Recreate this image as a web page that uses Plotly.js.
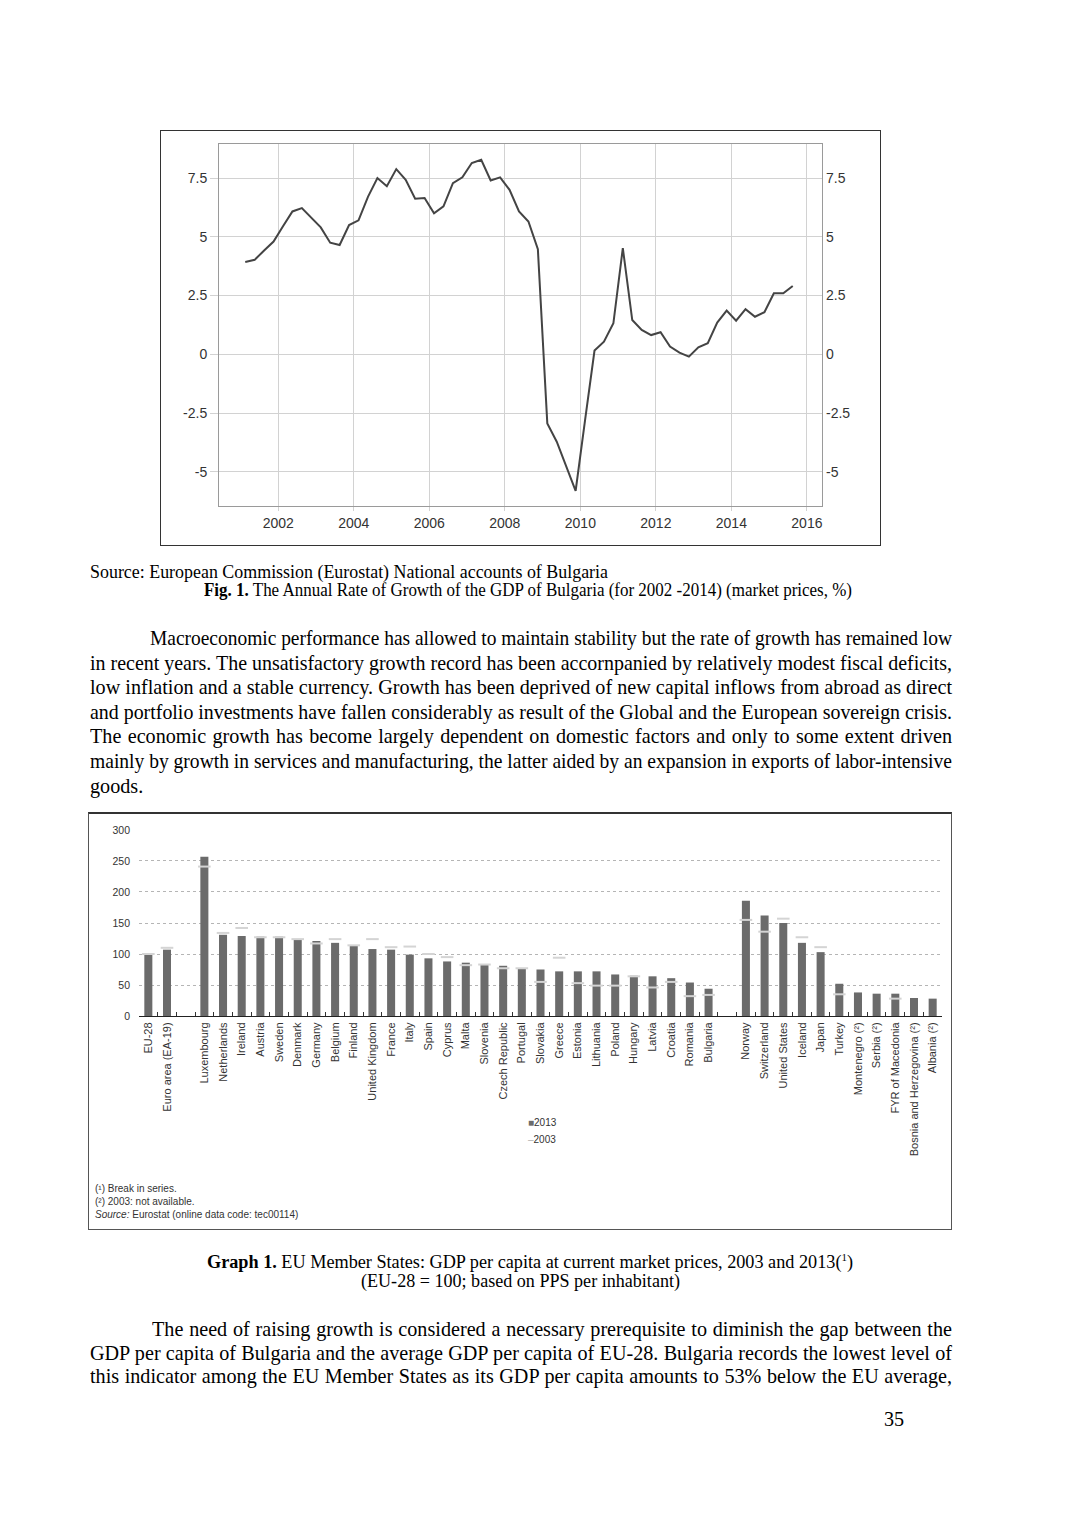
<!DOCTYPE html>
<html><head><meta charset="utf-8">
<script src="https://cdn.plot.ly/plotly-3.0.1.min.js"></script>
<style>
html,body{margin:0;padding:0;background:#fff}
body{width:1080px;height:1528px;position:relative;overflow:hidden;font-family:"Liberation Serif","Times New Roman",serif;color:#000}
.frame{position:absolute;box-sizing:border-box;background:#fff}
.ln{position:absolute;white-space:nowrap;transform-origin:0 50%;line-height:1}
</style></head><body>
<div class="frame" style="left:160px;top:130px;width:721px;height:416px;border:1px solid #333"><div id="g1"></div></div>
<div class="frame" style="left:88px;top:812px;width:864px;height:418px;border:1px solid #555;border-top:2px solid #333"><div id="g2"></div></div>
<script>
// ---------- Fig. 1 data: quarterly annual GDP growth rate of Bulgaria (%) ----------
const quarterTimes = [
 2001.125,2001.375,2001.625,2001.875,
 2002.125,2002.375,2002.625,2002.875,
 2003.125,2003.375,2003.625,2003.875,
 2004.125,2004.375,2004.625,2004.875,
 2005.125,2005.375,2005.625,2005.875,
 2006.125,2006.375,2006.625,2006.875,
 2007.125,2007.375,2007.625,2007.875,
 2008.125,2008.375,2008.625,2008.875,
 2009.125,2009.375,2009.625,2009.875,
 2010.125,2010.375,2010.625,2010.875,
 2011.125,2011.375,2011.625,2011.875,
 2012.125,2012.375,2012.625,2012.875,
 2013.125,2013.375,2013.625,2013.875,
 2014.125,2014.375,2014.625,2014.875,
 2015.125,2015.375,2015.625];
const growthRate = [
 3.93,4.02,4.42,4.80,
 5.45,6.08,6.22,5.80,
 5.40,4.75,4.65,5.50,
 5.70,6.70,7.50,7.15,
 7.88,7.43,6.62,6.65,
 6.00,6.30,7.28,7.53,
 8.14,8.28,7.40,7.53,
 7.00,6.08,5.65,4.47,
 -2.94,-3.72,-4.79,-5.81,
 -2.80,0.16,0.54,1.32,
 4.52,1.46,1.04,0.82,
 0.94,0.33,0.07,-0.10,
 0.30,0.47,1.35,1.86,
 1.43,1.92,1.60,1.79,
 2.60,2.60,2.91];
const yearTicks = [2002,2004,2006,2008,2010,2012,2014,2016];
const growthTicks = [-5,-2.5,0,2.5,5,7.5];
const growthTickText = ['-5','-2.5','0','2.5','5','7.5'];

// ---------- Graph 1 data: GDP per capita in PPS (EU-28 = 100) ----------
const countries = ['EU-28','Euro area (EA-19)',' ','Luxembourg','Netherlands','Ireland','Austria','Sweden','Denmark','Germany','Belgium','Finland','United Kingdom','France','Italy','Spain','Cyprus','Malta','Slovenia','Czech Republic','Portugal','Slovakia','Greece','Estonia','Lithuania','Poland','Hungary','Latvia','Croatia','Romania','Bulgaria','  ','Norway','Switzerland','United States','Iceland','Japan','Turkey','Montenegro (²)','Serbia (²)','FYR of Macedonia','Bosnia and Herzegovina (²)','Albania (²)'];
const gdp2013 = [100,107,null,257,131,129,128,128,123,121,118,113,108,107,99,93,88,86,83,81,77,75,72,72,72,67,65,64,61,54,44,null,186,162,150,118,103,52,38,36,36,29,28];
const gdp2003 = [100,110,null,241,134,142,127,127,124,117,124,114,124,111,112,100,95,82,83,77,77,55,94,53,49,49,64,46,55,32,34,null,155,136,157,127,111,35,null,null,28,null,null];
const gdpTicks = [0,50,100,150,200,250,300];
const seriesNames = ['2013','2003'];

const sans = 'Liberation Sans, Arial, sans-serif';

// ---------- Fig. 1 ----------
const yr = [-6.455, 8.95];
Plotly.newPlot('g1', [
  {x: quarterTimes, y: growthRate, type:'scatter', mode:'lines', line:{color:'#444', width:2}, hoverinfo:'skip'},
  {x: quarterTimes, y: growthRate, type:'scatter', mode:'lines', yaxis:'y2', line:{color:'rgba(0,0,0,0)', width:0}, hoverinfo:'skip'}
], {
  width:719, height:414, margin:{l:58,r:58,t:13,b:39},
  paper_bgcolor:'#fff', plot_bgcolor:'#fff', showlegend:false,
  font:{family:sans, size:14, color:'#333'},
  xaxis:{range:[2000.43,2016.4], tickvals:yearTicks, ticktext:yearTicks.map(String),
    showgrid:true, gridcolor:'#d2d2d2', gridwidth:1, zeroline:false,
    showline:true, linecolor:'#9a9a9a', linewidth:1, mirror:true,
    ticks:'outside', ticklen:4, tickcolor:'#d2d2d2', tickfont:{size:14,color:'#333'}},
  yaxis:{range:yr, tickvals:growthTicks, ticktext:growthTickText,
    showgrid:true, gridcolor:'#d2d2d2', gridwidth:1, zeroline:false,
    showline:true, linecolor:'#9a9a9a', linewidth:1, mirror:true,
    ticks:'outside', ticklen:8, tickcolor:'#d2d2d2', tickfont:{size:14,color:'#333'}},
  yaxis2:{overlaying:'y', side:'right', range:yr, tickvals:growthTicks, ticktext:growthTickText,
    showgrid:false, zeroline:false, showline:false, ticks:'', ticklabelstandoff:3,
    tickfont:{size:14,color:'#333'}}
}, {staticPlot:true, displayModeBar:false});

// ---------- Graph 1 ----------
Plotly.newPlot('g2', [
  {x: countries, y: gdp2013, type:'bar', name:seriesNames[0], marker:{color:'#6b6b6b'}, hoverinfo:'skip'},
  {x: countries, y: gdp2003, type:'scatter', mode:'markers', name:seriesNames[1],
   marker:{symbol:'line-ew', size:9, color:'#d4d4d4', line:{color:'#d4d4d4', width:2}}, hoverinfo:'skip'}
], {
  width:862, height:415, margin:{l:50,r:9,t:15,b:213},
  paper_bgcolor:'#fff', plot_bgcolor:'#fff', showlegend:false, bargap:0.57,
  font:{family:sans, size:11, color:'#333'},
  xaxis:{type:'category', categoryorder:'array', categoryarray:countries,
    range:[-0.5, countries.length - 0.5], autorange:false,
    tickangle:-90, tickfont:{size:11, color:'#333'},
    showline:true, linecolor:'#222', linewidth:1, showgrid:false, zeroline:false,
    ticks:'inside', ticklen:4, tickcolor:'#333', tickson:'boundaries', ticklabelstandoff:1},
  yaxis:{range:[0,301.6], autorange:false, tickvals:gdpTicks, ticktext:gdpTicks.map(String),
    showgrid:true, gridcolor:'#b5b5b5', griddash:'dot', gridwidth:1, zeroline:false, showline:false,
    ticks:'', tickfont:{size:10.5, color:'#333'}, ticklabelstandoff:8},
  annotations:[
    {xref:'paper', yref:'paper', x:0.4825, y:-0.5715, xanchor:'left', yanchor:'middle', showarrow:false,
     text:'<span style="color:#6b6b6b">■</span>'+seriesNames[0], font:{family:sans, size:10, color:'#333'}},
    {xref:'paper', yref:'paper', x:0.4825, y:-0.663, xanchor:'left', yanchor:'middle', showarrow:false,
     text:'<span style="color:#b0b0b0">–</span>'+seriesNames[1], font:{family:sans, size:10, color:'#333'}},
    {xref:'paper', yref:'paper', x:-0.0577, y:-0.921, xanchor:'left', yanchor:'middle', showarrow:false,
     text:'(¹) Break in series.', font:{family:sans, size:10, color:'#333'}},
    {xref:'paper', yref:'paper', x:-0.0577, y:-0.991, xanchor:'left', yanchor:'middle', showarrow:false,
     text:'(²) 2003: not available.', font:{family:sans, size:10, color:'#333'}},
    {xref:'paper', yref:'paper', x:-0.0577, y:-1.061, xanchor:'left', yanchor:'middle', showarrow:false,
     text:'<i>Source:</i> Eurostat (online data code: tec00114)', font:{family:sans, size:10, color:'#333'}}
  ]
}, {staticPlot:true, displayModeBar:false});

// ---------- page text ----------
const pageLines = [
  {html:'Source: European Commission (Eurostat) National accounts of Bulgaria', x:90, y:572, w:518, size:18},
  {html:'<b>Fig. 1.</b> The Annual Rate of Growth of the GDP of Bulgaria (for 2002 -2014) (market prices, %)', x:204, y:590, w:648, size:18},
  {html:'Macroeconomic performance has allowed to maintain stability but the rate of growth has remained low', x:150, y:638, w:802, size:22, j:true},
  {html:'in recent years. The unsatisfactory growth record has been accornpanied by relatively modest fiscal deficits,', x:90, y:662.5, w:862, size:22, j:true},
  {html:'low inflation and a stable currency. Growth has been deprived of new capital inflows from abroad as direct', x:90, y:687, w:862, size:22, j:true},
  {html:'and portfolio investments have fallen considerably as result of the Global and the European sovereign crisis.', x:90, y:711.5, w:862, size:22, j:true},
  {html:'The economic growth has become largely dependent on domestic factors and only to some extent driven', x:90, y:736, w:862, size:22, j:true},
  {html:'mainly by growth in services and manufacturing, the latter aided by an expansion in exports of labor-intensive', x:90, y:761, w:862, size:22, j:true},
  {html:'goods.', x:90, y:786, size:22},
  {html:'<b>Graph 1.</b> EU Member States: GDP per capita at current market prices, 2003 and 2013(<sup style="font-size:60%;line-height:0">1</sup>)', x:207, y:1262, w:646, size:18},
  {html:'(EU-28 = 100; based on PPS per inhabitant)', x:361, y:1281, w:319, size:18},
  {html:'The need of raising growth is considered a necessary prerequisite to diminish the gap between the', x:152, y:1329, w:800, size:22, j:true},
  {html:'GDP per capita of Bulgaria and the average GDP per capita of EU-28. Bulgaria records the lowest level of', x:90, y:1353, w:862, size:22, j:true},
  {html:'this indicator among the EU Member States as its GDP per capita amounts to 53% below the EU average,', x:90, y:1376, w:862, size:22, j:true},
  {html:'35', x:884, y:1419, size:22}
];
const els = pageLines.map(o => {
  const d = document.createElement('div');
  d.className = 'ln';
  d.style.left = o.x + 'px';
  d.style.fontSize = o.size + 'px';
  d.innerHTML = o.html;
  document.body.appendChild(d);
  const r = d.getBoundingClientRect();
  d.style.top = (o.y - r.height/2) + 'px';
  return {o, d, nat:r.width};
});
// common condensation: the median fit ratio of the justified lines
const ratios = els.filter(e => e.o.j).map(e => e.o.w / e.nat).sort((a,b)=>a-b);
const sCommon = ratios[Math.floor(ratios.length/2)];
els.forEach(({o, d, nat}) => {
  let s = sCommon;
  if (o.w) {
    const spaces = (d.textContent.match(/ /g) || []).length;
    if (o.j && spaces) {
      s = Math.min(sCommon, o.w / nat);
      const extra = (o.w / s - nat) / spaces;
      d.style.wordSpacing = Math.max(0, extra) + 'px';
    } else {
      s = o.w / nat;
    }
  }
  d.style.transform = 'scaleX(' + s + ')';
});
</script>
</body></html>
